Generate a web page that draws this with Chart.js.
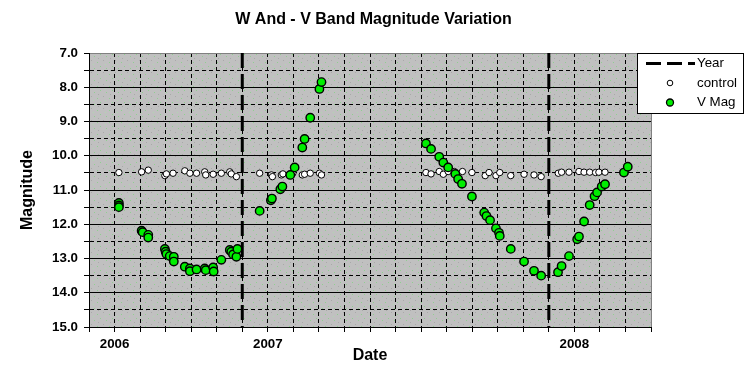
<!DOCTYPE html>
<html><head><meta charset="utf-8">
<script src="https://cdn.jsdelivr.net/npm/chart.js@4/dist/chart.umd.min.js"></script>
<style>html,body{margin:0;padding:0;background:#fff;}</style>
</head><body>
<canvas id="c" width="747" height="382"></canvas>
<script>
// x values: months since 1 July 2006
const controlMonths = [1.17,2.06,2.32,2.97,3.03,3.29,3.75,3.95,4.21,4.53,4.57,4.86,5.18,5.51,5.57,5.77,
  6.68,7.14,7.18,7.53,7.59,7.98,8.35,8.44,8.66,9.02,9.10,
  13.19,13.39,13.71,13.87,14.06,14.30,14.62,14.99,15.51,15.66,15.93,16.08,16.51,17.03,17.42,17.70,
  18.37,18.50,18.79,19.18,19.38,19.60,19.83,19.96,20.20,21.00];
const controlMags = [10.49,10.47,10.42,10.58,10.53,10.51,10.44,10.51,10.51,10.47,10.56,10.54,10.51,10.47,10.53,10.61,
  10.51,10.56,10.61,10.56,10.53,10.51,10.56,10.54,10.51,10.51,10.56,
  10.49,10.53,10.46,10.54,10.46,10.46,10.46,10.49,10.58,10.49,10.58,10.49,10.58,10.54,10.56,10.61,
  10.51,10.48,10.48,10.46,10.48,10.48,10.49,10.48,10.48,10.46];
const vMagMonths = [1.17,1.17,1.17,2.06,2.10,2.32,2.32,2.97,3.00,3.03,3.16,3.32,3.32,3.75,3.95,3.95,4.21,4.53,4.57,4.86,4.88,5.18,5.51,5.57,5.64,5.77,5.81,
  6.68,7.12,7.16,7.49,7.57,7.88,8.05,8.35,8.44,8.66,9.02,9.10,
  13.19,13.39,13.71,13.87,14.06,14.34,14.45,14.60,14.99,15.47,15.56,15.70,15.93,16.05,16.08,16.51,17.03,17.42,17.70,
  18.36,18.50,18.79,19.11,19.18,19.38,19.60,19.79,19.89,20.07,20.20,20.94,21.09];
const vMagValues = [11.38,11.45,11.50,12.19,12.23,12.31,12.39,12.72,12.80,12.87,12.93,12.95,13.09,13.24,13.29,13.37,13.32,13.29,13.34,13.26,13.38,13.04,12.75,12.80,12.88,12.95,12.72,
  11.61,11.30,11.25,10.98,10.90,10.56,10.34,9.76,9.51,8.89,8.05,7.85,
  9.64,9.80,10.03,10.20,10.34,10.53,10.68,10.82,11.19,11.66,11.76,11.88,12.12,12.25,12.34,12.72,13.09,13.36,13.50,
  13.40,13.22,12.93,12.44,12.36,11.92,11.44,11.18,11.07,10.90,10.83,10.49,10.32];
const yearLineMonths = [6, 18];
const yearTickMonths = [1, 7, 19];
const yearTickLabels = ['2006', '2007', '2008'];
const magMin = 7, magMax = 15, magStep = 0.5;
const monthMin = 0, monthMax = 22;
const chartTitle = 'W And - V Band Magnitude Variation';
const seriesNames = ['Year', 'control', 'V Mag'];

const FONT = '"Liberation Sans", Arial, sans-serif';

const yearData = [];
yearLineMonths.forEach(m => { yearData.push({x:m, y:magMin}, {x:m, y:magMax}, {x:m, y:null}); });
const controlData = controlMonths.map((m,i) => ({x:m, y:controlMags[i]}));
const vData = vMagMonths.map((m,i) => ({x:m, y:vMagValues[i]}));

// background pattern
const tile = document.createElement('canvas');
tile.width = 12; tile.height = 12;
const tc = tile.getContext('2d');
tc.fillStyle = '#c0c0c0'; tc.fillRect(0,0,12,12);
[[1,2,'#8fcf8f'],[7,0,'#a9a9a9'],[4,6,'#8fcf8f'],[10,8,'#8fcf8f'],[2,10,'#a9a9a9'],[9,4,'#b0d8b0']].forEach(p => { tc.fillStyle = p[2]; tc.fillRect(p[0],p[1],1,1); });

const bgPlugin = {
  id: 'bg',
  beforeDraw(chart) {
    const {ctx, chartArea: a} = chart;
    ctx.save();
    ctx.fillStyle = ctx.createPattern(tile, 'repeat');
    ctx.fillRect(a.left, a.top, a.right - a.left, a.bottom - a.top);
    ctx.restore();
  }
};

const decoPlugin = {
  id: 'deco',
  afterDraw(chart) {
    const ctx = chart.ctx;
    ctx.save();
    // title
    ctx.fillStyle = '#000';
    ctx.font = 'bold 16px ' + FONT;
    ctx.textAlign = 'center';
    ctx.textBaseline = 'middle';
    ctx.fillText(chartTitle, 373.5, 20);
    // legend
    const L = 637, T = 53, W = 106, H = 60;
    ctx.fillStyle = '#fff';
    ctx.fillRect(L, T, W, H);
    ctx.strokeStyle = '#000';
    ctx.lineWidth = 1;
    ctx.strokeRect(L + 0.5, T + 0.5, W, H);
    const ds = chart.data.datasets;
    const rows = [63.5, 83, 102.5];
    // Year line
    ctx.beginPath();
    ctx.setLineDash(ds[0].borderDash);
    ctx.lineWidth = ds[0].borderWidth;
    ctx.strokeStyle = ds[0].borderColor;
    ctx.moveTo(646, rows[0]); ctx.lineTo(695, rows[0]);
    ctx.stroke();
    ctx.setLineDash([]);
    // control marker
    ctx.beginPath();
    ctx.arc(670, rows[1], 2.8, 0, Math.PI*2);
    ctx.fillStyle = ds[1].backgroundColor; ctx.fill();
    ctx.lineWidth = 1; ctx.strokeStyle = '#000'; ctx.stroke();
    // V Mag marker
    ctx.beginPath();
    ctx.arc(670, rows[2], 3.5, 0, Math.PI*2);
    ctx.fillStyle = ds[2].backgroundColor; ctx.fill();
    ctx.lineWidth = 1.3; ctx.strokeStyle = '#000'; ctx.stroke();
    ctx.fillStyle = '#000';
    ctx.font = '13.33px ' + FONT;
    ctx.textAlign = 'left';
    ctx.textBaseline = 'middle';
    seriesNames.forEach((n, i) => ctx.fillText(n, 697, rows[i]));
    ctx.restore();
  }
};

new Chart(document.getElementById('c'), {
  type: 'scatter',
  data: {
    datasets: [
      { label: seriesNames[0], type: 'line', data: yearData, showLine: true, spanGaps: false,
        borderColor: '#000', borderWidth: 3, borderDash: [15, 6], pointRadius: 0, order: 3, fill: false },
      { label: seriesNames[1], data: controlData, backgroundColor: '#ffffff', borderColor: '#000',
        pointRadius: 3.2, borderWidth: 1, order: 2 },
      { label: seriesNames[2], data: vData, backgroundColor: '#00ee00', borderColor: '#000',
        pointRadius: 4.2, borderWidth: 1.4, order: 1 }
    ]
  },
  options: {
    responsive: false,
    animation: false,
    devicePixelRatio: 1,
    layout: { padding: { left: 0, top: 53, right: 96, bottom: 0 } },
    plugins: { legend: { display: false }, tooltip: { enabled: false }, title: { display: false } },
    scales: {
      x: {
        type: 'linear', min: monthMin, max: monthMax,
        afterFit(s) { s.height = 55; },
        afterBuildTicks(s) {
          const t = [];
          for (let v = monthMin; v <= monthMax; v++) t.push({value: v});
          s.ticks = t;
        },
        ticks: {
          autoSkip: false, maxRotation: 0, padding: 4, color: '#000',
          font: { family: FONT, size: 13.33, weight: 'bold' },
          callback: (v) => { const i = yearTickMonths.indexOf(v); return i >= 0 ? yearTickLabels[i] : ''; }
        },
        grid: {
          color: (c) => (c.tick && c.tick.value === monthMax) ? '#808080' : '#000',
          lineWidth: 1, tickLength: 5, tickColor: '#000', tickWidth: 1
        },
        border: {
          display: true, color: '#000', width: 1,
          dash: (c) => (c.tick && (c.tick.value === monthMin || c.tick.value === monthMax)) ? [] : [4, 3]
        },
        title: { display: true, text: 'Date', color: '#000', font: { family: FONT, size: 16, weight: 'bold' },
          padding: { top: 0, bottom: 17 } }
      },
      y: {
        type: 'linear', min: magMin, max: magMax, reverse: true,
        afterFit(s) { s.width = 89; },
        afterBuildTicks(s) {
          const t = [];
          for (let v = magMin; v <= magMax + 1e-9; v += magStep) t.push({value: Math.round(v*10)/10});
          s.ticks = t;
        },
        ticks: {
          autoSkip: false, padding: 6, color: '#000',
          font: { family: FONT, size: 13.33, weight: 'bold' },
          callback: (v) => (Math.abs(v % 1) < 1e-9) ? Number(v).toFixed(1) : ''
        },
        grid: {
          color: (c) => (c.tick && c.tick.value === magMin) ? '#808080' : '#000',
          lineWidth: 1, tickLength: 5, tickColor: '#000', tickWidth: 1
        },
        border: {
          display: true, color: '#000', width: 1,
          dash: (c) => (c.tick && Math.abs(c.tick.value % 1) > 1e-9) ? [4, 3] : []
        },
        title: { display: true, text: 'Magnitude', color: '#000', font: { family: FONT, size: 16, weight: 'bold' },
          padding: { top: 18, bottom: 0 } }
      }
    }
  },
  plugins: [bgPlugin, decoPlugin]
});
</script>
</body></html>
